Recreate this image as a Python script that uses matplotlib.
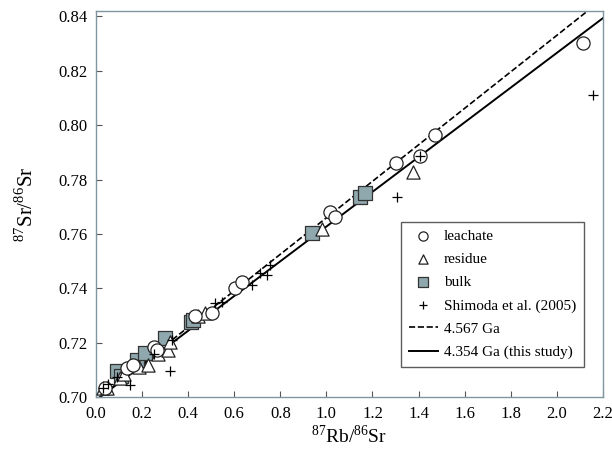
import numpy as np
import matplotlib
matplotlib.use("Agg")
import matplotlib.pyplot as plt

plt.rcParams['font.family'] = ['Liberation Serif', 'DejaVu Serif']
plt.rcParams['mathtext.fontset'] = 'custom'
plt.rcParams['mathtext.rm'] = 'Liberation Serif'

## leachate (open circles)
leach_x = [0.04, 0.133, 0.162, 0.25, 0.263, 0.43, 0.502, 0.603, 0.632,
           1.015, 1.037, 1.301, 1.406, 1.471, 2.113]
leach_y = [0.7035, 0.7108, 0.7119, 0.7186, 0.7174, 0.7297, 0.7310, 0.7400, 0.7425,
           0.7682, 0.7662, 0.7860, 0.7887, 0.7964, 0.8302]

## residue (open triangles)
res_x = [0.03, 0.046, 0.104, 0.12, 0.158, 0.185, 0.227, 0.27, 0.314, 0.321,
         0.444, 0.473, 0.979, 1.377]
res_y = [0.7035, 0.7034, 0.7070, 0.7085, 0.7120, 0.7110, 0.7119, 0.7160, 0.7174, 0.7205,
         0.7297, 0.7309, 0.7618, 0.7829]

## bulk (filled squares)
bulk_x = [0.09, 0.11, 0.176, 0.213, 0.30, 0.41, 0.42, 0.936, 1.145, 1.167]
bulk_y = [0.7095, 0.7080, 0.7138, 0.7162, 0.7217, 0.7278, 0.7285, 0.7603, 0.7737, 0.7750]

## Shimoda et al. (2005) (plus)
shim_x = [0.03, 0.05, 0.09, 0.147, 0.25, 0.321, 0.33, 0.516, 0.545, 0.675,
          0.71, 0.74, 0.755, 1.307, 1.406, 2.157]
shim_y = [0.7035, 0.7050, 0.7075, 0.7046, 0.7160, 0.7095, 0.7210, 0.7346, 0.7352, 0.7413,
          0.7456, 0.7450, 0.7487, 0.7737, 0.7887, 0.8110]

## isochron reference lines
ages = [4.567, 4.354]  # Ga
line_labels = ["4.567 Ga", "4.354 Ga (this study)"]
initial_sr = 0.69897
decay_const = 1.42e-11

fig = plt.figure(figsize=(6.12, 4.51), dpi=100)
ax = fig.add_axes([0.157, 0.119, 0.828, 0.857])

xx = np.array([0.0, 2.3])
for age, lab, ls, lw in zip(ages, line_labels, ['--', '-'], [1.2, 1.4]):
    slope = np.exp(decay_const * age * 1e9) - 1
    ax.plot(xx, initial_sr + slope * xx, color='black', ls=ls, lw=lw, label=lab, zorder=2)

ax.scatter(bulk_x, bulk_y, marker='s', s=90, facecolor='#8fa8ae', edgecolor='#333333',
           lw=0.9, label='bulk', zorder=3)
ax.scatter(res_x, res_y, marker='^', s=90, facecolor='white', edgecolor='#222222',
           lw=0.9, label='residue', zorder=4)
ax.scatter(leach_x, leach_y, marker='o', s=90, facecolor='white', edgecolor='#222222',
           lw=0.9, label='leachate', zorder=5)
ax.scatter(shim_x, shim_y, marker='+', s=60, color='black', lw=0.9,
           label='Shimoda et al. (2005)', zorder=6)

ax.set_xlim(0, 2.2)
ax.set_ylim(0.70, 0.842)
ax.set_xticks(np.arange(0, 2.21, 0.2))
ax.set_yticks(np.arange(0.70, 0.841, 0.02))
ax.set_xticklabels(["%.1f" % v for v in np.arange(0, 2.21, 0.2)])
ax.set_yticklabels(["%.2f" % v for v in np.arange(0.70, 0.841, 0.02)])
ax.tick_params(direction='in', length=4, width=0.8, color='#555555', labelsize=12, pad=6)
for sp in ax.spines.values():
    sp.set_color('#7f95a0')
    sp.set_linewidth(1.0)

ax.set_xlabel(r'$^{87}$Rb/$^{86}$Sr', fontsize=14, labelpad=2)
ax.set_ylabel(r'$^{87}$Sr/$^{86}$Sr', fontsize=15, labelpad=15)

h, l = ax.get_legend_handles_labels()
order = [l.index(n) for n in ['leachate', 'residue', 'bulk', 'Shimoda et al. (2005)',
                              '4.567 Ga', '4.354 Ga (this study)']]
leg = ax.legend([h[i] for i in order], [l[i] for i in order], loc='lower right',
                bbox_to_anchor=(0.962, 0.079), fontsize=11, frameon=True, fancybox=False,
                edgecolor='#333333', markerscale=0.7, handlelength=1.9, handletextpad=0.4,
                borderpad=0.5, labelspacing=0.62, borderaxespad=0)
leg.get_frame().set_linewidth(1.0)

fig.savefig('out.png', dpi=100)
